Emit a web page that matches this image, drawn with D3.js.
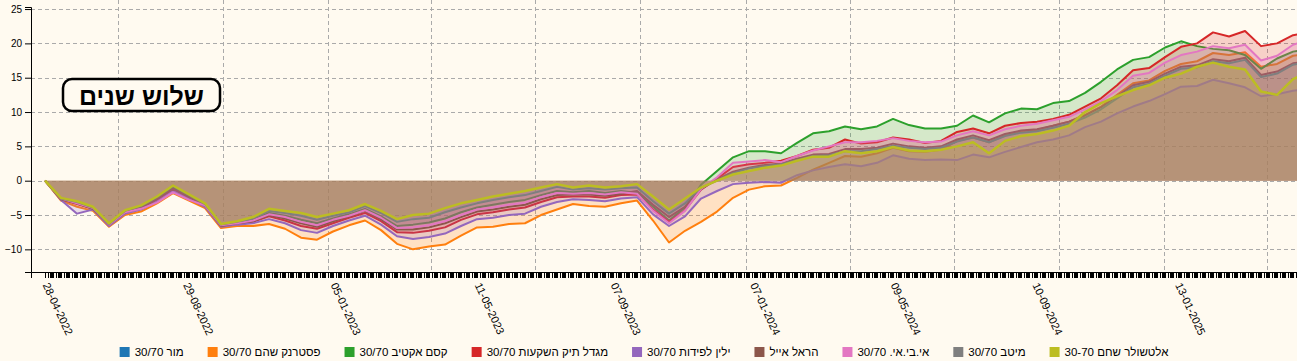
<!DOCTYPE html>
<html><head><meta charset="utf-8">
<script src="https://cdn.jsdelivr.net/npm/d3@7"></script>
<style>
html,body{margin:0;padding:0;background:#fffaf0;overflow:hidden;}
svg{display:block;font-family:"Liberation Sans",Arial,sans-serif;}
</style></head><body>
<svg id="chart" width="1297" height="361"></svg>
<script>
// ---- data ----
const dates = ["2022-04-28","2022-05-12","2022-05-26","2022-06-09","2022-06-23","2022-07-07","2022-07-21","2022-08-04","2022-08-18","2022-09-01",
"2022-09-15","2022-09-29","2022-10-13","2022-10-27","2022-11-10","2022-11-24","2022-12-08","2022-12-22","2023-01-05","2023-01-19",
"2023-02-02","2023-02-16","2023-03-02","2023-03-16","2023-03-30","2023-04-13","2023-04-27","2023-05-11","2023-05-25","2023-06-08",
"2023-06-22","2023-07-06","2023-07-20","2023-08-03","2023-08-17","2023-08-31","2023-09-14","2023-09-28","2023-10-12","2023-10-26",
"2023-11-09","2023-11-23","2023-12-07","2023-12-21","2024-01-04","2024-01-18","2024-02-01","2024-02-15","2024-02-29","2024-03-14",
"2024-03-28","2024-04-11","2024-04-25","2024-05-09","2024-05-23","2024-06-06","2024-06-20","2024-07-04","2024-07-18","2024-08-01",
"2024-08-15","2024-08-29","2024-09-12","2024-09-26","2024-10-10","2024-10-24","2024-11-07","2024-11-21","2024-12-05","2024-12-19",
"2025-01-02","2025-01-16","2025-01-30","2025-02-13","2025-02-27","2025-03-13","2025-03-27","2025-04-10","2025-04-24","2025-04-28"];

const seriesNames = ["מור 30/70","פסטרנק שהם 30/70","קסם אקטיב 30/70","מגדל תיק השקעות 30/70","ילין לפידות 30/70","הראל אייל","אי.בי.אי. 30/70","מיטב 30/70","אלטשולר שחם 30-70"];

const mor = [];
const pasternak = [0,-2.9,-3.8,-4.4,-6.7,-5.0,-4.5,-3.3,-1.8,-2.9,-4.0,-6.9,-6.6,-6.6,-6.3,-7.0,-8.3,-8.6,-7.4,-6.5,-5.8,-7.2,-9.2,-10.0,-9.6,-9.3,-8.0,-6.8,-6.7,-6.3,-6.2,-5.0,-4.2,-3.4,-3.7,-3.8,-3.3,
 -2.9,-5.8,-9.0,-7.3,-6.0,-4.5,-2.5,-1.3,-0.8,-0.7,0.4,1.6,
 2.6,3.6,3.5,4.0,4.8,4.3,4.2,4.5,5.8,6.3,5.6,6.6,7.2,7.4,8.0,8.6,9.6,10.8,12.5,14.2,14.6,16.0,17.0,17.4,18.6,18.3,18.7,16.6,17.0,18.2,18.3];
const kesem = [0,-2.6,-3.2,-4.0,-6.3,-4.5,-3.9,-2.6,-1.0,-2.3,-3.5,-6.5,-6.1,-5.7,-4.7,-5.1,-5.7,-6.2,-5.5,-4.9,-4.1,-5.2,-6.6,-6.4,-6.1,-5.5,-4.6,-3.9,-3.5,-3.1,-2.8,-2.1,-1.5,-1.7,-1.5,-1.8,-1.5,
 -1.8,-3.8,-5.8,-3.9,-0.6,1.4,3.4,4.3,4.3,4.0,5.5,6.9,
 7.2,7.9,7.5,7.9,9.0,8.1,7.6,7.6,8.0,9.5,8.5,9.8,10.5,10.4,11.3,11.6,12.8,14.4,16.2,17.6,18.0,19.4,20.3,19.6,19.2,19.0,18.3,16.3,17.8,18.8,18.9];
const migdal = [0,-2.7,-3.4,-4.1,-6.5,-4.7,-4.1,-2.8,-1.3,-2.5,-3.7,-6.6,-6.3,-6.0,-5.2,-5.8,-6.6,-7.0,-6.2,-5.4,-4.7,-5.9,-7.5,-7.6,-7.3,-6.8,-5.7,-4.9,-4.6,-4.2,-3.9,-3.1,-2.4,-2.3,-2.3,-2.5,-2.1,
 -2.0,-4.2,-6.0,-4.3,-1.3,0.3,2.0,2.4,2.6,2.9,3.6,4.5,
 4.8,6.0,5.4,5.6,6.3,6.0,5.5,5.8,7.1,7.6,6.9,8.0,8.4,8.6,9.0,9.6,10.8,12.0,13.9,16.1,16.4,18.0,19.5,20.0,21.6,21.0,21.8,19.6,20.0,21.2,21.3];
const yalin = [0,-2.8,-4.8,-4.2,-6.6,-4.8,-4.2,-3.0,-1.5,-2.6,-3.8,-6.7,-6.4,-6.2,-5.6,-6.2,-7.2,-7.6,-6.6,-5.8,-5.1,-6.4,-8.1,-8.5,-8.2,-7.7,-6.6,-5.6,-5.4,-5.0,-4.8,-3.8,-3.1,-2.7,-2.8,-3.0,-2.6,
 -2.4,-4.9,-6.6,-5.2,-2.6,-1.5,-0.5,-0.3,-0.2,-0.3,0.8,1.5,
 2.0,2.4,2.1,2.6,3.7,3.2,3.0,3.1,3.0,3.8,3.4,4.2,4.9,5.6,6.0,6.6,7.8,8.6,9.8,10.8,11.6,12.6,13.7,13.8,14.7,14.2,13.6,12.3,12.6,13.1,13.2];
const harel = [0,-2.7,-3.3,-4.1,-6.4,-4.6,-4.0,-2.7,-1.2,-2.4,-3.6,-6.6,-6.2,-5.9,-5.0,-5.5,-6.2,-6.7,-5.9,-5.2,-4.4,-5.6,-7.1,-7.1,-6.8,-6.2,-5.3,-4.5,-4.2,-3.8,-3.5,-2.7,-2.1,-2.0,-2.0,-2.2,-1.9,
 -1.5,-3.5,-5.3,-3.8,-1.2,0.2,1.3,1.9,2.3,2.5,3.2,3.8,
 3.9,4.6,4.6,4.8,5.4,5.0,4.8,5.0,6.0,6.6,5.9,6.8,7.3,7.5,8.0,8.6,9.5,10.7,12.3,13.9,14.4,15.6,16.6,16.8,17.7,17.4,17.9,15.4,15.9,17.1,17.2];
const ibi = [0,-2.6,-3.3,-4.0,-6.4,-4.6,-4.1,-3.2,-1.7,-2.8,-3.6,-6.5,-6.2,-5.8,-4.9,-5.3,-6.0,-6.5,-5.7,-5.1,-4.3,-5.4,-6.9,-6.8,-6.5,-5.9,-5.0,-4.2,-3.9,-3.5,-3.2,-2.4,-1.8,-1.9,-1.8,-2.0,-1.7,
 -1.9,-4.4,-6.2,-4.4,-1.2,0.5,2.6,2.8,3.0,2.7,3.6,4.4,
 5.0,5.6,5.6,5.8,6.2,5.8,5.6,5.7,6.6,7.2,6.6,7.5,8.0,8.3,8.8,9.3,10.4,11.6,13.2,15.3,15.7,17.2,18.3,18.8,19.6,19.3,19.8,17.5,18.2,19.8,20.0];
const meitav = [0,-2.6,-3.1,-3.9,-6.3,-4.4,-3.7,-2.4,-0.8,-2.1,-3.4,-6.4,-6.0,-5.5,-4.4,-4.7,-5.1,-5.7,-5.1,-4.6,-3.7,-4.7,-6.0,-5.6,-5.4,-4.6,-3.9,-3.3,-2.8,-2.4,-2.1,-1.5,-0.9,-1.3,-1.1,-1.3,-1.1,
 -1.0,-3.0,-4.8,-3.3,-1.0,0.0,1.1,1.8,2.1,2.4,3.0,3.6,
 3.7,4.3,4.3,4.6,5.1,4.8,4.6,4.8,5.7,6.3,5.6,6.5,7.0,7.2,7.7,8.3,9.2,10.4,12.0,13.6,14.1,15.3,16.3,16.5,17.4,17.1,17.6,15.1,15.6,16.9,17.0];
const altshuler = [0,-2.5,-3.0,-3.8,-6.2,-4.3,-3.6,-2.3,-0.7,-2.0,-3.3,-6.3,-5.9,-5.3,-4.1,-4.4,-4.7,-5.3,-4.8,-4.3,-3.4,-4.4,-5.6,-5.0,-4.8,-4.0,-3.3,-2.8,-2.3,-1.9,-1.5,-1.0,-0.5,-1.0,-0.7,-1.0,-0.8,
 -0.5,-2.3,-4.2,-2.6,-1.0,0.0,0.9,1.4,1.9,2.2,2.9,3.5,
 3.5,4.3,4.0,4.3,4.9,4.4,4.3,4.5,5.0,5.6,4.0,5.8,6.5,6.8,7.3,8.0,10.0,11.3,12.3,13.2,13.9,15.0,15.6,16.6,17.2,16.6,16.2,13.0,12.5,14.8,15.1];

const xTickLabels = ["28-04-2022","29-08-2022","05-01-2023","11-05-2023","07-09-2023","07-01-2024","09-05-2024","10-09-2024","13-01-2025"];
const yTicks = [-10,-5,0,5,10,15,20,25];
const titleText = "שלוש שנים";

// ---- styles ----
const colors = d3.schemeCategory10;
const seriesValues = [mor,pasternak,kesem,migdal,yalin,harel,ibi,meitav,altshuler];

const W = 1297, H = 361;
const parse = d3.timeParse("%Y-%m-%d");
const fmt = d3.timeFormat("%d-%m-%Y");
const dateObjs = dates.map(parse);

const svg = d3.select("#chart");
svg.append("rect").attr("width",W).attr("height",H).attr("fill","#fffaf0");

const x = d3.scaleTime().domain([new Date(2022,3,15,18), new Date(2025,3,28,8)]).range([31,1298]);
const y = d3.scaleLinear().domain([-13.3,25.3]).range([272,7]);

// grid
const grid = svg.append("g").attr("stroke","#aaa").attr("stroke-width",1).attr("stroke-dasharray","4,3").attr("fill","none");
grid.selectAll(".h").data(yTicks).join("line")
  .attr("x1",31).attr("x2",W).attr("y1",d=>Math.round(y(d))+0.5).attr("y2",d=>Math.round(y(d))+0.5);
grid.selectAll(".v").data(x.ticks(d3.timeMonth.every(3))).join("line")
  .attr("x1",d=>Math.round(x(d))+0.5).attr("x2",d=>Math.round(x(d))+0.5).attr("y1",0).attr("y2",272);

// series
const area = d3.area().x(d=>x(d.date)).y0(y(0)).y1(d=>y(d.v));
const line = d3.line().x(d=>x(d.date)).y(d=>y(d.v));
const plot = svg.append("g");
seriesValues.forEach((vals,si)=>{
  if(!vals.length) return;
  const pts = vals.map((v,i)=>({date:dateObjs[i], v}));
  plot.append("path").attr("d",area(pts)).attr("fill",colors[si]).attr("fill-opacity",0.2);
  plot.append("path").attr("d",line(pts)).attr("fill","none").attr("stroke",colors[si])
    .attr("stroke-width", si===8 ? 2.5 : 2).attr("stroke-linejoin","round");
});

// axes
const tradingDays = d3.timeDay.range(new Date(2022,3,28), new Date(2025,3,29)).filter(d=>d.getDay()<=4);
const labelSet = new Set(xTickLabels);
const xAxis = svg.append("g").attr("transform","translate(0,272)")
  .call(d3.axisBottom(x).tickValues(tradingDays).tickSize(6).tickFormat(d=>labelSet.has(fmt(d))?fmt(d):""));
xAxis.selectAll(".tick line").attr("shape-rendering","crispEdges");
xAxis.selectAll(".tick text").filter(function(){return this.textContent==="";}).remove();
xAxis.selectAll(".tick text").attr("x",0).attr("y",0).attr("dy",0)
  .attr("transform","translate(-3,13) rotate(65)").attr("text-anchor","start")
  .attr("font-size",11).attr("font-family","'Liberation Sans',Arial,sans-serif").attr("fill","#000");

const yAxis = svg.append("g").attr("transform","translate(31,0)")
  .call(d3.axisLeft(y).tickValues(yTicks).tickSize(6));
yAxis.selectAll("text").attr("font-size",10).attr("font-family","'Liberation Sans',Arial,sans-serif").attr("fill","#000");

// title box
const tg = svg.append("g");
tg.append("rect").attr("x",63).attr("y",79).attr("width",157).attr("height",32).attr("rx",9)
  .attr("fill","#fffaf0").attr("stroke","#000").attr("stroke-width",2.5);
tg.append("text").attr("x",141.5).attr("y",96).attr("text-anchor","middle").attr("dominant-baseline","central")
  .attr("font-weight","bold").attr("font-size",25).attr("direction","rtl").text(titleText);

// legend
const lg = svg.append("g");
const items = seriesNames.map((name,i)=>{
  const g = lg.append("g");
  g.append("rect").attr("x",0).attr("y",347).attr("width",10).attr("height",10).attr("fill",colors[i]);
  const t = g.append("text").attr("x",15).attr("y",356).attr("font-size",11.5).attr("fill","#000")
    .attr("direction","rtl").attr("text-anchor","end").text(name);
  return {g, w: 15 + t.node().getComputedTextLength()};
});
const gap = 24;
const total = d3.sum(items,d=>d.w) + gap*(items.length-1);
let cx = 644 - total/2;
items.forEach(it=>{ it.g.attr("transform",`translate(${cx},0)`); cx += it.w + gap; });
</script>
</body></html>
